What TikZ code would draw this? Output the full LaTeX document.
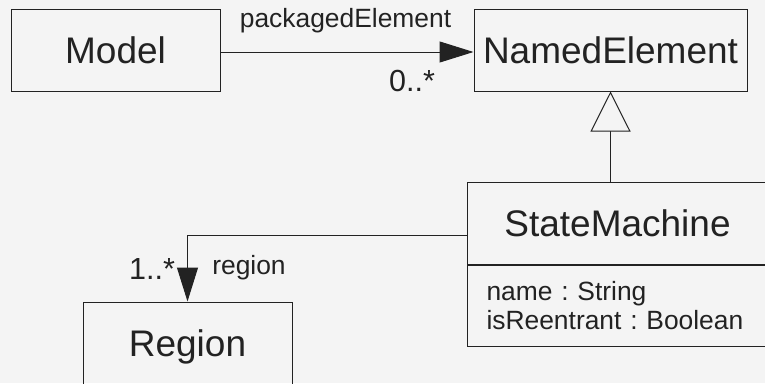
\documentclass[tikz,border=0pt]{standalone}
\usepackage{fontspec}
\setmainfont{Liberation Sans}
\usetikzlibrary{arrows.meta}
\definecolor{bg}{HTML}{F4F4F4}
\definecolor{ink}{HTML}{222222}
\frenchspacing

\begin{document}
\begin{tikzpicture}[x=1pt,y=-1pt,
  cls/.style={draw=ink,line width=1pt,rectangle,minimum height=82pt,
    inner sep=0pt,text=ink,font=\fontsize{37}{44}\selectfont},
  lbl/.style={inner sep=0pt,text=ink,font=\fontsize{26.4}{29}\selectfont},
  mult/.style={inner sep=0pt,text=ink,font=\fontsize{30.5}{34}\selectfont},
  assoc/.style={draw=ink,line width=1pt,-{Triangle[length=34pt,width=21pt]}},
  gen/.style={draw=ink,line width=1pt,-{Triangle[open,length=40pt,width=40pt,fill=bg]}}]
  % page
  \fill[bg] (0,0) rectangle (765,383) ; \clip (0,0) rectangle (765,383) ;
  % classes
  \node[cls,minimum width=209pt] (model) at (115.5,50) {Model} ;
  \node[cls,minimum width=273pt] (named) at (610.5,50) {NamedElement} ;
  \node[cls,minimum width=300pt,anchor=north west] (machine) at (467,182)
  {StateMachine} ; \node[cls,anchor=north,minimum height=81pt,inner
  xsep=19pt,text width=262pt,align=left,font=\fontsize{26.4}{29}\selectfont]
  (attrs) at (machine.south) {name : String\\isReentrant : Boolean} ;
  \node[cls,minimum width=209pt,text depth=0pt] (region) at (187.5,343)
  {Region} ;
  % generalization
  \draw[gen] (named.south |- machine.north) -- (named.south) ;
  % associations
  \draw[assoc] ([yshift=-2pt]model.east) -- ([yshift=-2pt]named.west) ;
  \node[lbl] (pkglabel) at (345.5,21) {packagedElement} ;
  \node[mult] (pkgmult) at (412,81) {0..*} ;
  \draw[assoc] ([yshift=-12pt]machine.west) -| (region.north) ;
  \node[lbl] (reglabel) at (249,268) {region} ;
  \node[mult] (regmult) at (152,269) {1..*} ;
\end{tikzpicture}
\end{document}
